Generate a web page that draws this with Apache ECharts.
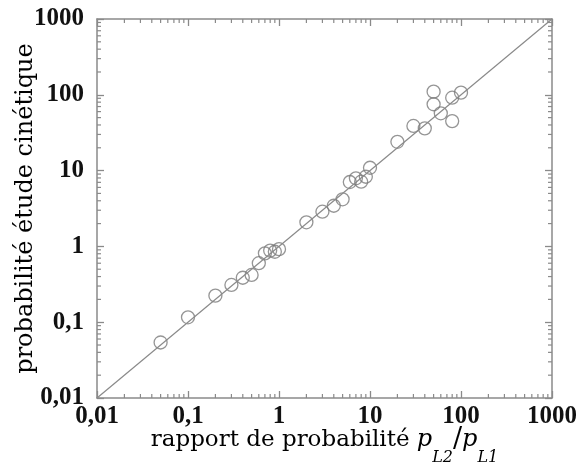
<!DOCTYPE html>
<html>
<head>
<meta charset="utf-8">
<script src="https://cdn.jsdelivr.net/npm/echarts@6/dist/echarts.min.js"></script>
<style>html,body{margin:0;padding:0;background:#fff}#c{width:576px;height:466px}</style>
</head>
<body>
<div id="c"></div>
<script>
// ---- data ----
const xRatio = [0.05, 0.1, 0.2, 0.3, 0.4, 0.5, 0.6, 0.7, 0.8, 0.9, 1,
                2, 3, 4, 5, 6, 7, 8, 9, 10,
                20, 30, 40, 50, 50, 60, 80, 80, 100];
const yKinetic = [0.054, 0.116, 0.224, 0.31, 0.386, 0.42, 0.6, 0.81, 0.88, 0.85, 0.92,
                  2.08, 2.87, 3.44, 4.18, 7.07, 7.91, 7.14, 8.3, 10.9,
                  24, 38.8, 36.1, 110, 75, 57, 91.6, 45, 106.7];
const tickLabels = ['0,01', '0,1', '1', '10', '100', '1000'];
const diagonal = [[0.01, 0.01], [1000, 1000]];
const minorTickValues = [];
[0.01, 0.1, 1, 10, 100].forEach(function (d) {
  for (let k = 2; k <= 9; k++) minorTickValues.push(+(d * k).toPrecision(3));
});

const points = xRatio.map(function (x, i) { return [x, yKinetic[i]]; });

function fmt(v) {
  const i = Math.round(Math.log10(v)) + 2;
  return tickLabels[i] !== undefined ? tickLabels[i] : '';
}

const axisColor = '#8a8a8a';
const tickFont = { fontFamily: 'Liberation Serif', fontWeight: 'bold', fontSize: 25, color: '#111' };

function baseAxis(extra) {
  return Object.assign({
    type: 'log', logBase: 10, min: 0.01, max: 1000,
    axisLine: { show: true, onZero: false, lineStyle: { color: axisColor, width: 1.5 } },
    axisTick: { show: true, inside: true, length: 7, lineStyle: { color: axisColor, width: 1.3 } },
    minorTick: { show: false },
    splitLine: { show: false }
  }, extra);
}

const chart = echarts.init(document.getElementById('c'), null, { renderer: 'canvas' });

chart.setOption({
  backgroundColor: '#fff',
  animation: false,
  grid: { left: 97, right: 24, top: 19, bottom: 68, containLabel: false, outerBoundsMode: 'none' },
  xAxis: [
    baseAxis({
      position: 'bottom',
      axisLabel: Object.assign({ margin: 6, formatter: fmt }, tickFont),
      name: '{t|rapport de probabilité }{p|p}{s|L2}{sl|/}{p|p}{s|L1}',
      nameLocation: 'middle', nameGap: 16, nameMoveOverlap: false,
      nameTextStyle: {
        rich: {
          t: { fontFamily: 'DejaVu Serif', fontSize: 23, color: '#000' },
          p: { fontFamily: 'DejaVu Serif', fontStyle: 'italic', fontSize: 24, color: '#000' },
          sl: { fontFamily: 'DejaVu Serif', fontSize: 27, color: '#000' },
          s: { fontFamily: 'DejaVu Serif', fontStyle: 'italic', fontSize: 16, color: '#000', padding: [36, 0, 0, 0] }
        }
      }
    }),
    baseAxis({ position: 'top', axisLabel: { show: false } })
  ],
  yAxis: [
    baseAxis({
      position: 'left',
      axisLabel: Object.assign({ margin: 13, formatter: fmt }, tickFont),
      name: 'probabilité étude cinétique',
      nameLocation: 'middle', nameGap: 59, nameMoveOverlap: false,
      nameTextStyle: { fontFamily: 'DejaVu Serif', fontSize: 24, color: '#000' }
    }),
    baseAxis({ position: 'right', axisLabel: { show: false } })
  ],
  series: [
    {
      type: 'custom',
      coordinateSystem: 'cartesian2d',
      silent: true,
      data: minorTickValues,
      renderItem: function (params, api) {
        const v = api.value(0);
        const cs = params.coordSys;
        const L = 4;
        const px = api.coord([v, 1])[0];
        const py = api.coord([1, v])[1];
        const st = { stroke: axisColor, lineWidth: 1.2 };
        return {
          type: 'group',
          children: [
            { type: 'line', shape: { x1: px, y1: cs.y + cs.height, x2: px, y2: cs.y + cs.height - L }, style: st },
            { type: 'line', shape: { x1: px, y1: cs.y, x2: px, y2: cs.y + L }, style: st },
            { type: 'line', shape: { x1: cs.x, y1: py, x2: cs.x + L, y2: py }, style: st },
            { type: 'line', shape: { x1: cs.x + cs.width, y1: py, x2: cs.x + cs.width - L, y2: py }, style: st }
          ]
        };
      }
    },
    {
      type: 'line',
      data: diagonal,
      symbol: 'none',
      silent: true,
      lineStyle: { color: '#8a8a8a', width: 1.2 }
    },
    {
      type: 'scatter',
      data: points,
      symbol: 'circle',
      symbolSize: 13,
      itemStyle: { color: 'rgba(255,255,255,0)', borderColor: '#7a7a7a', borderWidth: 1.3 }
    }
  ]
});
</script>
</body>
</html>
